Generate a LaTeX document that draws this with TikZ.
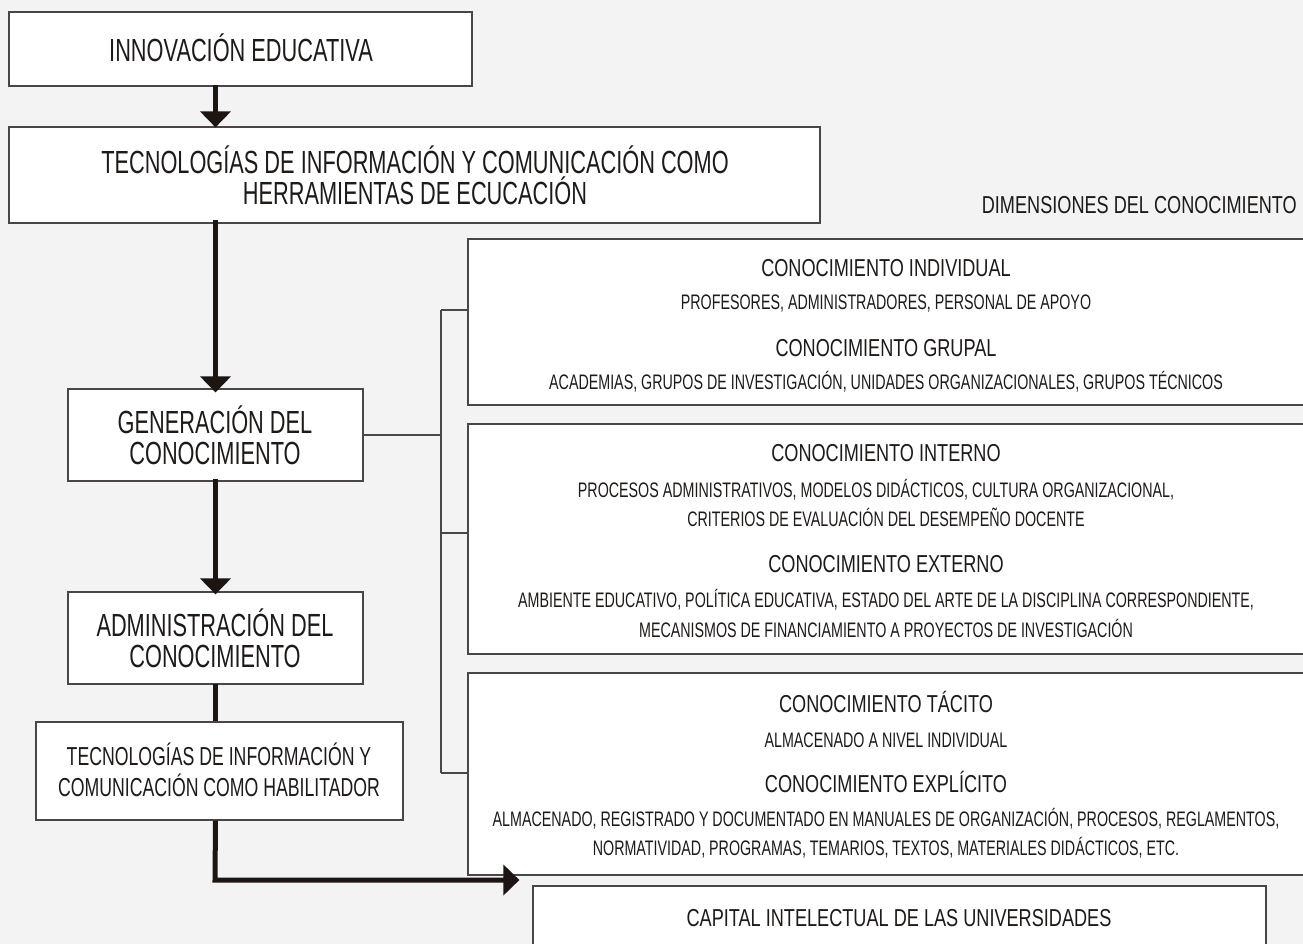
\documentclass[tikz,border=0pt]{standalone}
\usepackage{fontspec}
\setmainfont{Liberation Sans}[FakeStretch=0.68]
\newfontfamily\subfam{Liberation Sans}[FakeStretch=0.74]
\usetikzlibrary{arrows.meta,fit}
\definecolor{bgc}{HTML}{F3F3F3}
\definecolor{bordc}{HTML}{4A4646}
\definecolor{arrc}{HTML}{1C1512}
\definecolor{txtc}{HTML}{1E1A18}
\begin{document}
\begin{tikzpicture}[x=1pt,y=-1pt,
  box/.style={draw=bordc,line width=1.2pt,fill=white,inner sep=0pt},
  mainlbl/.style={font=\fontsize{32}{34}\selectfont,text=txtc,anchor=base,inner sep=0pt},
  hablbl/.style={font=\fontsize{26}{28}\selectfont,text=txtc,anchor=base,inner sep=0pt},
  sublbl/.style={font=\subfam\fontsize{24.5}{26}\selectfont,text=txtc,anchor=base,inner sep=0pt},
  smalllbl/.style={font=\fontsize{21}{22}\selectfont,text=txtc,anchor=base,inner sep=0pt},
  arr/.style={draw=arrc,line width=5pt,-{Triangle[width=30pt,length=16pt]}},
  thickline/.style={draw=arrc,line width=5pt},
  thin/.style={draw=bordc,line width=1.2pt}]
\clip (0,0) rectangle (1303,944);
\fill[bgc] (0,0) rectangle (1303,944);

% left boxes
\node[box,fit={(9,12) (472,86)}] (inno) {};
\node[box,fit={(9,127) (820,223)}] (tic) {};
\node[box,fit={(68,389) (363,481)}] (gen) {};
\node[box,fit={(68,592) (363,684)}] (adm) {};
\node[box,fit={(36,722) (403,820)}] (hab) {};
\node[box,fit={(533,886) (1266,970)}] (cap) {};

% right boxes
\node[box,fit={(468,239) (1310,405)}] (r1) {};
\node[box,fit={(468,424) (1310,654)}] (r2) {};
\node[box,fit={(468,673) (1310,875)}] (r3) {};

% left texts
\node[mainlbl] (t_inno) at (241,62) {INNOVACIÓN EDUCATIVA};
\node[mainlbl] (t_tic1) at (415,173.5) {TECNOLOGÍAS DE INFORMACIÓN Y COMUNICACIÓN COMO};
\node[mainlbl] (t_tic2) at (415,204.5) {HERRAMIENTAS DE ECUCACIÓN};
\node[mainlbl] (t_gen1) at (215,433.5) {GENERACIÓN DEL};
\node[mainlbl] (t_gen2) at (215,464.5) {CONOCIMIENTO};
\node[mainlbl] (t_adm1) at (215,636.5) {ADMINISTRACIÓN DEL};
\node[mainlbl] (t_adm2) at (215,667.5) {CONOCIMIENTO};
\node[hablbl] (t_hab1) at (219,765.5) {TECNOLOGÍAS DE INFORMACIÓN Y};
\node[hablbl] (t_hab2) at (219,796.5) {COMUNICACIÓN COMO HABILITADOR};
\node[sublbl] (t_cap) at (899,926.8) {CAPITAL INTELECTUAL DE LAS UNIVERSIDADES};
\node[sublbl,anchor=base east] (t_dim) at (1297,213.8) {DIMENSIONES DEL CONOCIMIENTO};

% right texts
\node[sublbl] (t_r1a) at (886,276.8) {CONOCIMIENTO INDIVIDUAL};
\node[smalllbl] (t_r1b) at (886,309.5) {PROFESORES, ADMINISTRADORES, PERSONAL DE APOYO};
\node[sublbl] (t_r1c) at (886,356.8) {CONOCIMIENTO GRUPAL};
\node[smalllbl] (t_r1d) at (886,389.5) {ACADEMIAS, GRUPOS DE INVESTIGACIÓN, UNIDADES ORGANIZACIONALES, GRUPOS TÉCNICOS};

\node[sublbl] (t_r2a) at (886,461.8) {CONOCIMIENTO INTERNO};
\node[smalllbl] (t_r2b) at (876,497.5) {PROCESOS ADMINISTRATIVOS, MODELOS DIDÁCTICOS, CULTURA ORGANIZACIONAL,};
\node[smalllbl] (t_r2c) at (886,526.5) {CRITERIOS DE EVALUACIÓN DEL DESEMPEÑO DOCENTE};
\node[sublbl] (t_r2d) at (886,572.8) {CONOCIMIENTO EXTERNO};
\node[smalllbl] (t_r2e) at (886,607.5) {AMBIENTE EDUCATIVO, POLÍTICA EDUCATIVA, ESTADO DEL ARTE DE LA DISCIPLINA CORRESPONDIENTE,};
\node[smalllbl] (t_r2f) at (886,637.5) {MECANISMOS DE FINANCIAMIENTO A PROYECTOS DE INVESTIGACIÓN};

\node[sublbl] (t_r3a) at (886,712.8) {CONOCIMIENTO TÁCITO};
\node[smalllbl] (t_r3b) at (886,747.5) {ALMACENADO A NIVEL INDIVIDUAL};
\node[sublbl] (t_r3c) at (886,792.8) {CONOCIMIENTO EXPLÍCITO};
\node[smalllbl] (t_r3d) at (886,826.5) {ALMACENADO, REGISTRADO Y DOCUMENTADO EN MANUALES DE ORGANIZACIÓN, PROCESOS, REGLAMENTOS,};
\node[smalllbl] (t_r3e) at (886,855.5) {NORMATIVIDAD, PROGRAMAS, TEMARIOS, TEXTOS, MATERIALES DIDÁCTICOS, ETC.};

% arrows
\draw[arr] ([yshift=2pt]gen.north |- inno.south) -- ([yshift=-1pt]gen.north |- tic.north);
\draw[arr] ([yshift=4pt]gen.north |- tic.south) -- ([yshift=-4pt]gen.north);
\draw[arr] ([yshift=3pt]gen.south) -- ([yshift=-3pt]adm.north);
\draw[thickline] ([yshift=1pt]adm.south) -- (adm.south |- hab.north);
\coordinate (k) at (215,880);
\draw[arr] (adm.south |- hab.south) -- (k) -- ([xshift=-13pt]cap.west |- k);

% bracket
\coordinate (b1) at (441,310);
\coordinate (b2) at (441,533);
\coordinate (b3) at (441,773);
\coordinate (bg) at (441,435);
\draw[thin] (b1) -- (b3);
\draw[thin] (b1) -- (b1 -| r1.west);
\draw[thin] (b2) -- (b2 -| r2.west);
\draw[thin] (b3) -- (b3 -| r3.west);
\draw[thin] (gen.east |- bg) -- (bg);
\end{tikzpicture}
\end{document}
